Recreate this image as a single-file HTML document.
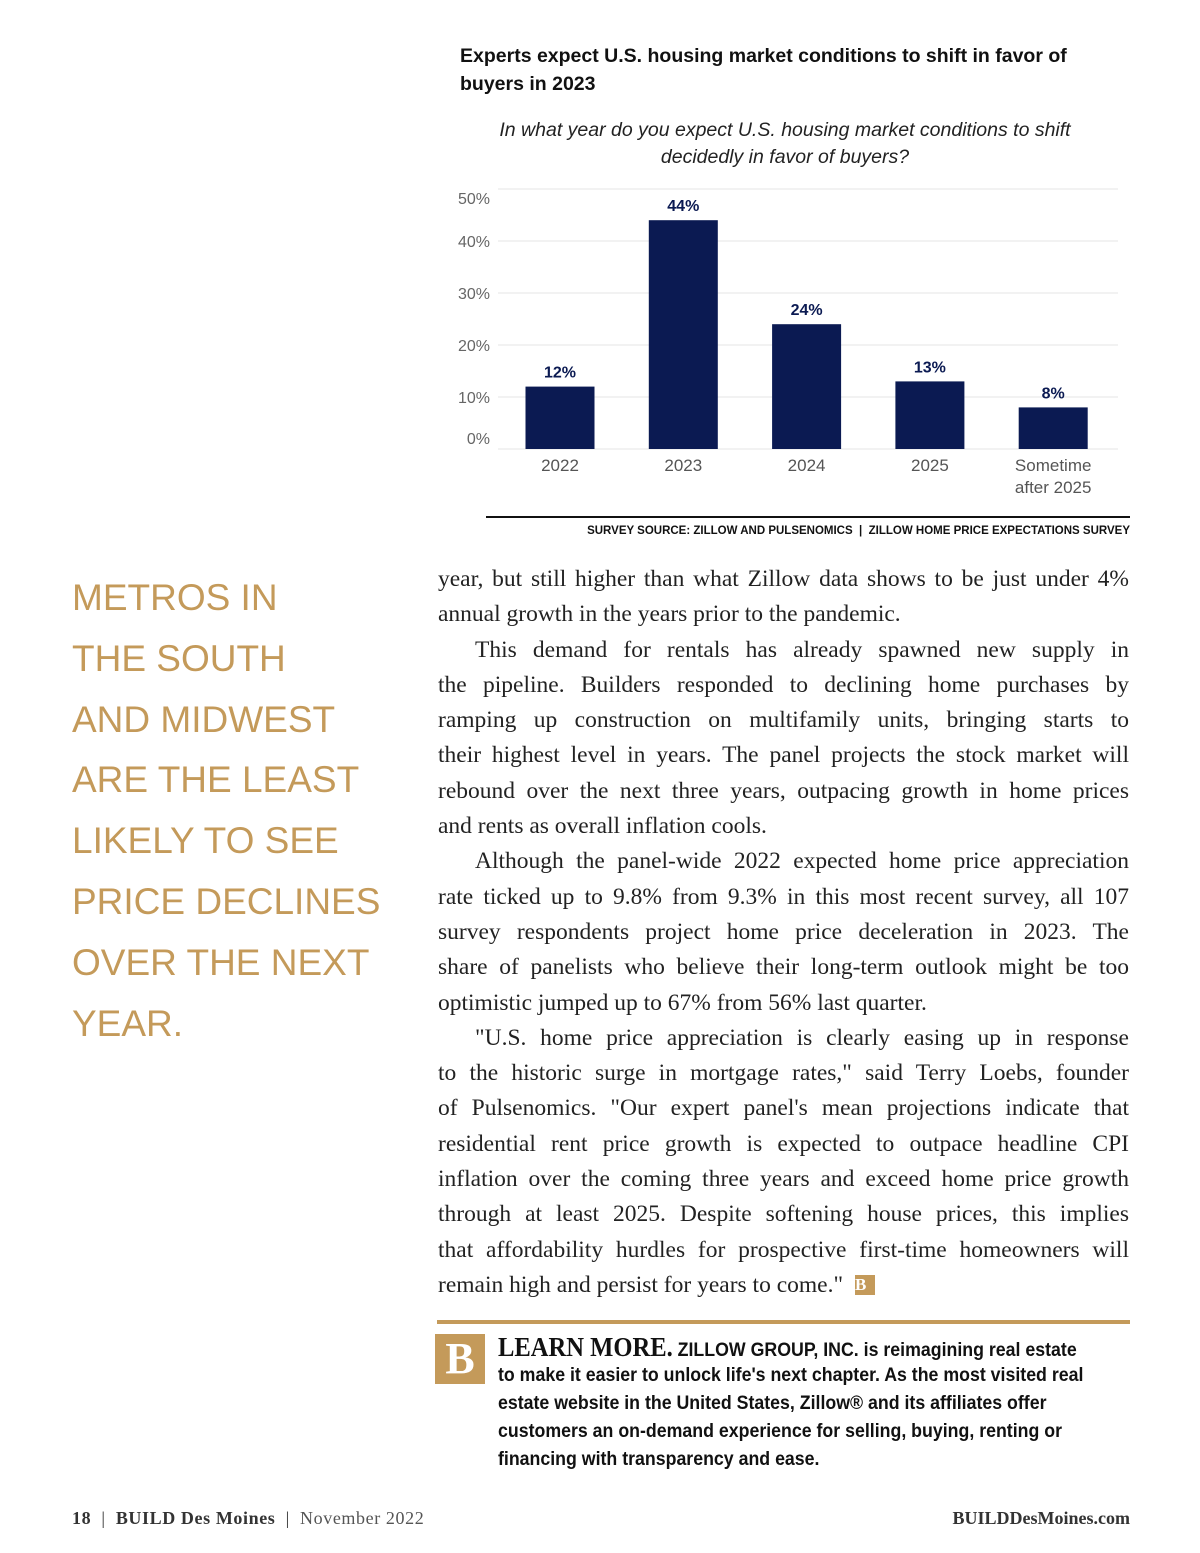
<!DOCTYPE html>
<html><head><meta charset="utf-8"><style>
body{margin:0;width:1200px;height:1553px;background:#fff;position:relative;font-family:"Liberation Sans",sans-serif;overflow:hidden}
.abs{position:absolute}
.body div{text-align:justify;text-align-last:justify;white-space:nowrap;height:35.3px}
.body div.last{text-align-last:left}
.body div.ind{padding-left:37px}
.lm div{white-space:nowrap;height:28px}
</style></head><body>
<div class="abs" style="left:460px;top:42px;width:680px;font-size:19.5px;font-weight:bold;line-height:28px;color:#111">Experts expect U.S. housing market conditions to shift in favor of<br>buyers in 2023</div>
<div class="abs" style="left:445px;top:117px;width:680px;text-align:center;font-size:19.5px;font-style:italic;line-height:27px;color:#222">In what year do you expect U.S. housing market conditions to shift<br>decidedly in favor of buyers?</div>
<svg class="abs" style="left:0;top:0" width="1200" height="520" id="chart"></svg>
<div class="abs" style="left:486px;top:516px;width:644px;height:1.5px;background:#111"></div>
<div class="abs" style="left:486px;top:525px;width:644px;text-align:right;font-size:11.5px;font-weight:bold;color:#111">SURVEY SOURCE: ZILLOW AND PULSENOMICS &nbsp;|&nbsp; ZILLOW HOME PRICE EXPECTATIONS SURVEY</div>
<div class="abs" style="left:72px;top:568px;width:330px;font-size:37px;line-height:60.8px;color:#c49a5a">METROS IN<br>THE SOUTH<br>AND MIDWEST<br>ARE THE LEAST<br>LIKELY TO SEE<br>PRICE DECLINES<br>OVER THE NEXT<br>YEAR.</div>
<div class="abs body" style="left:438px;top:562px;width:691px;font-family:'Liberation Serif',serif;font-size:23.5px;line-height:35.3px;color:#222">
<div>year, but still higher than what Zillow data shows to be just under 4%</div>
<div class="last">annual growth in the years prior to the pandemic.</div>
<div class="ind">This demand for rentals has already spawned new supply in</div>
<div>the pipeline. Builders responded to declining home purchases by</div>
<div>ramping up construction on multifamily units, bringing starts to</div>
<div>their highest level in years. The panel projects the stock market will</div>
<div>rebound over the next three years, outpacing growth in home prices</div>
<div class="last">and rents as overall inflation cools.</div>
<div class="ind">Although the panel-wide 2022 expected home price appreciation</div>
<div>rate ticked up to 9.8% from 9.3% in this most recent survey, all 107</div>
<div>survey respondents project home price deceleration in 2023. The</div>
<div>share of panelists who believe their long-term outlook might be too</div>
<div class="last">optimistic jumped up to 67% from 56% last quarter.</div>
<div class="ind">"U.S. home price appreciation is clearly easing up in response</div>
<div>to the historic surge in mortgage rates," said Terry Loebs, founder</div>
<div>of Pulsenomics. "Our expert panel's mean projections indicate that</div>
<div>residential rent price growth is expected to outpace headline CPI</div>
<div>inflation over the coming three years and exceed home price growth</div>
<div>through at least 2025. Despite softening house prices, this implies</div>
<div>that affordability hurdles for prospective first-time homeowners will</div>
<div class="last">remain high and persist for years to come." <span style="display:inline-block;width:20px;height:20px;background:#c49a5a;color:#fff;font-weight:bold;font-size:17px;line-height:20px;text-align:center;vertical-align:2px;margin-left:6px">B</span></div>
</div>
<div class="abs" style="left:437px;top:1320px;width:693px;height:4px;background:#c49a5a"></div>
<div class="abs" style="left:435px;top:1334px;width:50px;height:50px;background:#c49a5a;color:#fff;font-family:'Liberation Serif',serif;font-weight:bold;font-size:44px;line-height:50px;text-align:center">B</div>
<div class="abs lm" style="left:498px;top:1333px;width:640px;font-family:'Liberation Sans',sans-serif;font-size:19.5px;font-weight:bold;line-height:28px;color:#111;transform:scaleX(0.91);transform-origin:left">
<div><span style="font-family:'Liberation Serif',serif;font-size:27px;font-weight:900">LEARN MORE.</span> ZILLOW GROUP, INC. is reimagining real estate</div>
<div>to make it easier to unlock life's next chapter. As the most visited real</div>
<div>estate website in the United States, Zillow® and its affiliates offer</div>
<div>customers an on-demand experience for selling, buying, renting or</div>
<div>financing with transparency and ease.</div>
</div>
<div class="abs" style="left:72px;top:1508px;font-family:'Liberation Serif',serif;font-size:18px;color:#333;letter-spacing:0.6px"><b>18</b> &nbsp;| &nbsp;<b>BUILD Des Moines</b> &nbsp;| &nbsp;<span style="color:#555">November 2022</span></div>
<div class="abs" style="right:70px;top:1508px;font-family:'Liberation Serif',serif;font-size:18px;font-weight:bold;color:#333">BUILDDesMoines.com</div>
<script>
const categories=["2022","2023","2024","2025","Sometime|after 2025"];
const values=[12,44,24,13,8];
const ticks=[0,10,20,30,40,50];
const svg=document.getElementById('chart');
const NS='http://www.w3.org/2000/svg';
const y=v=>449-v*5.2;
const x=i=>560+i*123.3;
function mk(t,a){const e=document.createElementNS(NS,t);for(const k in a)e.setAttribute(k,a[k]);svg.appendChild(e);return e;}
ticks.forEach(t=>{
 const g=mk('line',{x1:498,x2:1118,y1:y(t),y2:y(t),stroke:'#eee','stroke-width':1.5});
 
 
 const l=mk('text',{x:490,y:y(t)+(t==0?-5:(t==50?15:6)),'text-anchor':'end','font-size':16,fill:'#666','font-family':'Liberation Sans, sans-serif'});
 l.textContent=t+'%';
 
 
});
values.forEach((v,i)=>{
 const b=mk('rect',{x:x(i)-34.5,y:y(v),width:69,height:y(0)-y(v),fill:'#0b1a52'});
 
 
 const t=mk('text',{x:x(i),y:y(v)-9,'text-anchor':'middle','font-size':16,'font-weight':'bold',fill:'#0b1a52','font-family':'Liberation Sans, sans-serif'});
 t.textContent=v+'%';
 
 
 categories[i].split('|').forEach((s,j)=>{
  const c=mk('text',{x:x(i),y:471+j*22,'text-anchor':'middle','font-size':17,fill:'#555','font-family':'Liberation Sans, sans-serif'});
  c.textContent=s;
  
  
 });
});
</script>
</body></html>
